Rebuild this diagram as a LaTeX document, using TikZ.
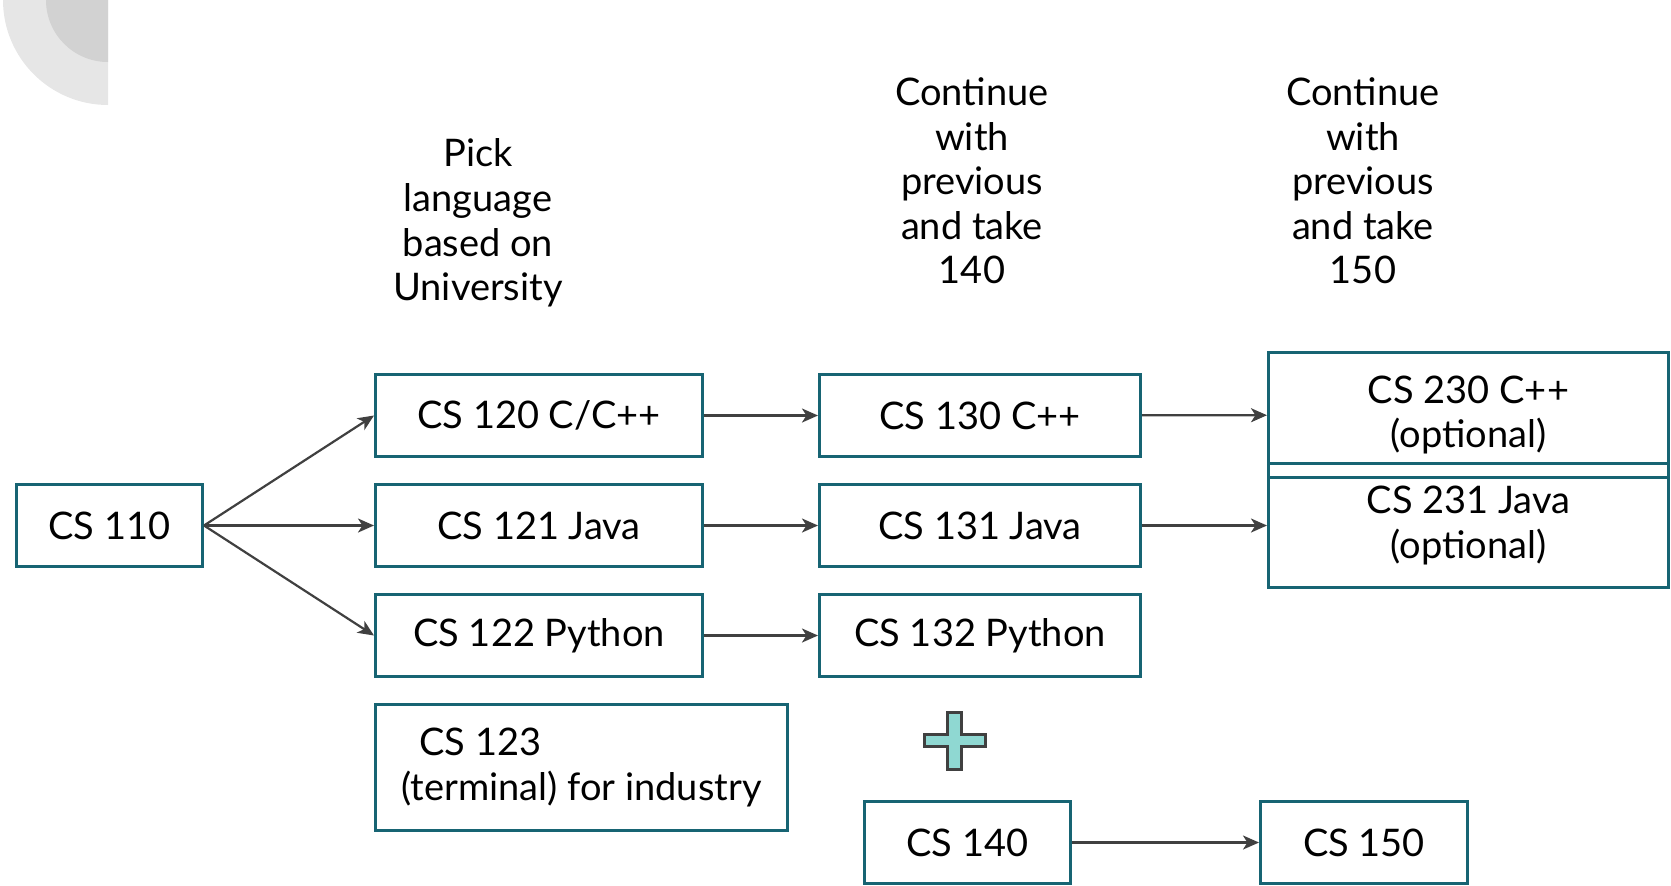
\documentclass[tikz,border=0pt]{standalone}
\usepackage{fontspec}
\setmainfont{Lato}
\usetikzlibrary{arrows.meta}
\definecolor{boxteal}{HTML}{176473}
\definecolor{linkgray}{HTML}{404040}
\definecolor{plusfill}{HTML}{8FD8D2}
\definecolor{cornerlight}{HTML}{E6E6E6}
\definecolor{cornerdark}{HTML}{D2D2D2}

\begin{document}
\begin{tikzpicture}[x=0.5pt, y=-0.5pt,
every node/.style = {font=\fontsize{19pt}{22.3pt}\selectfont, align=center},
course/.style = {draw=boxteal, line width=1.5pt, minimum height=41pt,
	inner sep=0pt},
header/.style = {inner sep=0pt},
link/.style = {draw=linkgray, line width=1.1pt,
	-{Stealth[length=8pt, width=7pt, inset=2.2pt]}}]
\clip (0,0) rectangle (1671,885);

% corner decoration
\begin{scope}
	\clip (0,0) rectangle (108,120);
	\fill[cornerlight] (108,0) circle[radius=52.5pt];
	\fill[cornerdark] (108,0) circle[radius=31pt];
\end{scope}

% column headings
\node[header] (pick) at (478,223) {Pick\\language\\based on\\University};
\node[header] (cont140) at (972,181) {Continue\\with\\previous\\and take\\140};
\node[header] (cont150) at (1363,181) {Continue\\with\\previous\\and take\\150};

% courses
\node[course, minimum width=93pt] (cs110) at (109.5,525.5) {CS 110};
\node[course, minimum width=163.5pt] (cs120) at (539,415.5) {CS 120 C/C++};
\node[course, minimum width=163.5pt] (cs121) at (539,525.5) {CS 121 Java};
\node[course, minimum width=163.5pt] (cs122) at (539,635.5) {CS 122 Python};
\node[course, minimum width=206pt, minimum height=63pt, align=left]
	(cs123) at (581.5,767.5) {\hspace{9pt}CS 123\\(terminal) for industry};
\node[course, minimum width=160.5pt] (cs130) at (980,415.5) {CS 130 C++};
\node[course, minimum width=160.5pt] (cs131) at (980,525.5) {CS 131 Java};
\node[course, minimum width=160.5pt] (cs132) at (980,635.5) {CS 132 Python};
\node[course, minimum width=200pt, minimum height=62.5pt]
	(cs230) at (1468.5,415) {CS 230 C++\\(optional)};
\node[course, minimum width=200pt, minimum height=62pt]
	(cs231) at (1468.5,525.5) {CS 231 Java\\(optional)};
\node[course, minimum width=103pt] (cs140) at (967.5,842.5) {CS 140};
\node[course, minimum width=103.5pt] (cs150) at (1364,842.5) {CS 150};

% plus sign
\filldraw[fill=plusfill, draw=linkgray, line width=1.5pt]
	(947.5,712.5) -- (961.5,712.5) -- (961.5,734.5) -- (985.5,734.5)
	-- (985.5,746.5) -- (961.5,746.5) -- (961.5,769.5) -- (947.5,769.5)
	-- (947.5,746.5) -- (924.5,746.5) -- (924.5,734.5) -- (947.5,734.5)
	-- cycle;

% links
\draw[link] (cs110.east) -- (cs120.west);
\draw[link] (cs110.east) -- (cs121.west);
\draw[link] (cs110.east) -- (cs122.west);
\draw[link] (cs120) -- (cs130);
\draw[link] (cs121) -- (cs131);
\draw[link] (cs122) -- (cs132);
\draw[link] (cs130) -- (cs230);
\draw[link] (cs131) -- (cs231);
\draw[link] (cs140) -- (cs150);
\end{tikzpicture}
\end{document}
